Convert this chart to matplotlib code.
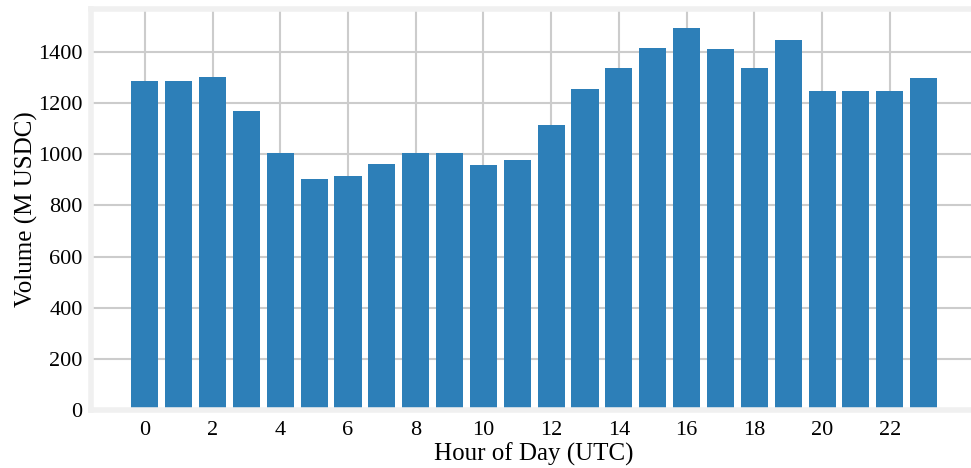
import matplotlib
matplotlib.use("Agg")
import matplotlib.pyplot as plt

hours = list(range(24))
volume = [1286, 1285, 1302, 1168, 1007, 904, 916, 963, 1007, 1007, 959, 979,
          1113, 1254, 1337, 1416, 1494, 1412, 1337, 1447, 1247, 1247, 1247, 1298]

plt.rcParams['font.family'] = ['Liberation Serif', 'DejaVu Serif']

fig = plt.figure(figsize=(9.71, 4.68), dpi=100)
ax = fig.add_axes([0.0937, 0.124, 0.913, 0.857])
ax.bar(hours, volume, width=0.8, color='#2d7fb8', zorder=2)
ax.set_xticks(range(0, 24, 2))
ax.grid(True, color='#cccccc', linewidth=1.5, zorder=0)
ax.set_axisbelow(True)
for s in ax.spines.values():
    s.set_color('#f0f0f0')
    s.set_linewidth(4)
ax.tick_params(axis='y', length=0, labelsize=16, pad=6)
ax.tick_params(axis='x', length=0, labelsize=16, pad=8)
ax.set_xlabel('Hour of Day (UTC)', fontsize=18, labelpad=2)
ax.set_ylabel('Volume (M USDC)', fontsize=18, labelpad=0)
fig.savefig('out.png', dpi=100)
